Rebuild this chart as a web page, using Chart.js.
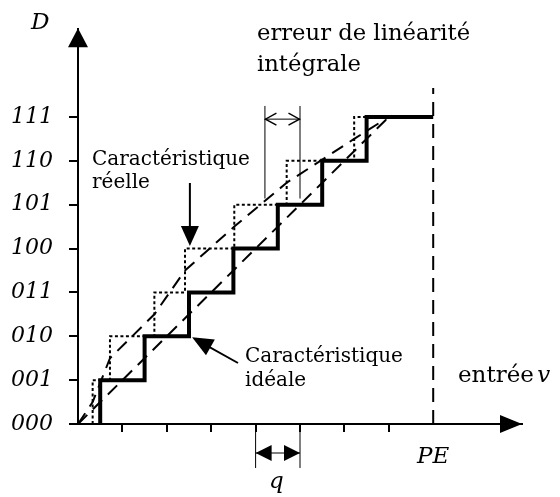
<!DOCTYPE html>
<html>
<head>
<meta charset="utf-8">
<script src="https://cdn.jsdelivr.net/npm/chart.js@4"></script>
<style>
  html, body { margin: 0; padding: 0; background: #fff; }
  #wrap { width: 560px; height: 497px; }
</style>
</head>
<body>
<div id="wrap"><canvas id="chart" width="560" height="497"></canvas></div>
<script>
// output codes D, one per quantisation level
const codes = ['000', '001', '010', '011', '100', '101', '110', '111'];
// input values (in q) where the code switches up
const idealEdges = [0.5, 1.5, 2.5, 3.5, 4.5, 5.5, 6.5];
const realEdges = [0.33, 0.72, 1.72, 2.41, 3.52, 4.70, 6.22];
const fullScale = 8;      // PE
const lineEnd = 7;        // where the two transfer lines stop
const xTicks = [1, 2, 3, 4, 5, 6, 7, 8];
const peTop = 7.66;

function staircase(edges) {
  const pts = [];
  edges.forEach((e, k) => {
    pts.push({ x: e, y: k }, { x: e, y: k + 1 });
  });
  pts.push({ x: fullScale, y: edges.length });
  return pts;
}

// line through the middle of every riser
function midline(edges) {
  const pts = [{ x: 0, y: 0 }];
  edges.forEach((e, k) => pts.push({ x: e, y: k + 0.5 }));
  pts.push({ x: lineEnd, y: lineEnd });
  return pts;
}

const serif = '"DejaVu Serif", serif';

function head(ctx, x1, y1, x2, y2, len, half, filled) {
  const a = Math.atan2(y2 - y1, x2 - x1);
  const bx = x2 - len * Math.cos(a), by = y2 - len * Math.sin(a);
  const px = -Math.sin(a) * half, py = Math.cos(a) * half;
  ctx.beginPath();
  ctx.moveTo(bx + px, by + py);
  ctx.lineTo(x2, y2);
  ctx.lineTo(bx - px, by - py);
  if (filled) { ctx.closePath(); ctx.fill(); } else ctx.stroke();
}

const extras = {
  id: 'extras',
  afterDraw(chart) {
    const ctx = chart.ctx;
    const xs = chart.scales.x, ys = chart.scales.y;
    const X = v => xs.getPixelForValue(v), Y = v => ys.getPixelForValue(v);
    const a = chart.chartArea;
    ctx.save();
    ctx.fillStyle = '#000';
    ctx.strokeStyle = '#000';

    // axis arrows
    head(ctx, a.left, a.top + 30, a.left, a.top - 1, 19, 10, true);
    head(ctx, a.right - 30, a.bottom, a.right, a.bottom, 22, 9, true);

    // integral linearity error marker
    ctx.lineWidth = 1;
    const eL = X(4.21), eR = X(5.0);
    ctx.beginPath();
    ctx.moveTo(eL, Y(5.14)); ctx.lineTo(eL, Y(7.25));
    ctx.moveTo(eR, Y(5.14)); ctx.lineTo(eR, Y(7.25));
    ctx.moveTo(eL, Y(6.95)); ctx.lineTo(eR, Y(6.95));
    ctx.stroke();
    ctx.lineWidth = 1.4;
    head(ctx, eR, Y(6.95), eL + 0.5, Y(6.95), 11, 6, false);
    head(ctx, eL, Y(6.95), eR - 0.5, Y(6.95), 11, 6, false);

    // q marker
    ctx.lineWidth = 1;
    const qL = X(4), qR = X(5), qy = a.bottom + 29;
    ctx.beginPath();
    ctx.moveTo(qL, a.bottom + 1); ctx.lineTo(qL, a.bottom + 44);
    ctx.moveTo(qR, a.bottom + 1); ctx.lineTo(qR, a.bottom + 44);
    ctx.moveTo(qL, qy); ctx.lineTo(qR, qy);
    ctx.stroke();
    head(ctx, qR, qy, qL, qy, 16, 8, true);
    head(ctx, qL, qy, qR, qy, 16, 8, true);

    // pointer arrows
    ctx.lineWidth = 2;
    ctx.beginPath();
    ctx.moveTo(X(2.52), 183); ctx.lineTo(X(2.52), Y(4.2));
    ctx.moveTo(238, 363); ctx.lineTo(X(2.7), Y(1.9));
    ctx.stroke();
    head(ctx, X(2.52), 200, X(2.52), Y(4.06), 20, 9, true);
    head(ctx, 238, 363, X(2.57), Y(1.98), 21, 9, true);

    // texts
    ctx.textAlign = 'left';
    ctx.textBaseline = 'alphabetic';
    ctx.font = '22.7px ' + serif;
    ctx.fillText('erreur de linéarité', 257, 40);
    ctx.fillText('intégrale', 257, 71);
    ctx.font = '20px ' + serif;
    ctx.fillText('Caractéristique', 92, 165);
    ctx.fillText('réelle', 92, 188);
    ctx.fillText('Caractéristique', 245, 362);
    ctx.fillText('idéale', 245, 386);
    ctx.font = '23px ' + serif;
    ctx.fillText('entrée', 458, 382);
    const w = ctx.measureText('entrée ').width;
    ctx.font = 'italic 23px ' + serif;
    ctx.fillText('v', 458 + w - 4, 382);
    ctx.font = 'italic 23px ' + serif;
    ctx.fillText('D', 31, 29);
    ctx.fillText('q', 269, 488);
    ctx.restore();
  }
};

new Chart(document.getElementById('chart'), {
  type: 'scatter',
  data: {
    datasets: [
      {
        label: 'Caractéristique idéale',
        data: staircase(idealEdges),
        showLine: true, borderColor: '#000', borderWidth: 4,
        pointRadius: 0, clip: false, borderJoinStyle: 'miter'
      },
      {
        label: 'Caractéristique réelle',
        data: staircase(realEdges),
        showLine: true, borderColor: '#000', borderWidth: 2,
        borderDash: [3, 2.5], pointRadius: 0, clip: false
      },
      {
        label: 'droite idéale',
        data: midline(idealEdges),
        showLine: true, borderColor: '#000', borderWidth: 2,
        borderDash: [13, 8], pointRadius: 0, clip: false
      },
      {
        label: 'courbe réelle',
        data: midline(realEdges),
        showLine: true, borderColor: '#000', borderWidth: 2,
        borderDash: [13, 8], pointRadius: 0, clip: false
      },
      {
        label: 'PE',
        data: [{ x: fullScale, y: 0 }, { x: fullScale, y: peTop }],
        showLine: true, borderColor: '#000', borderWidth: 2,
        borderDash: [14, 8], pointRadius: 0, clip: false
      }
    ]
  },
  options: {
    responsive: false,
    animation: false,
    devicePixelRatio: 1,
    layout: { padding: { top: 28, right: 38, left: 0, bottom: 0 } },
    plugins: { legend: { display: false }, tooltip: { enabled: false } },
    scales: {
      x: {
        type: 'linear', min: 0, max: 10,
        afterFit(s) { s.height = 73; },
        afterBuildTicks(s) { s.ticks = xTicks.map(v => ({ value: v })); },
        border: { display: true, color: '#000', width: 2 },
        grid: {
          drawOnChartArea: false, drawTicks: true, tickLength: 8, lineWidth: 2,
          color: c => (c.tick && c.tick.value === fullScale) ? 'rgba(0,0,0,0)' : '#000'
        },
        ticks: {
          color: '#000', padding: 11, maxRotation: 0, autoSkip: false,
          font: { family: 'DejaVu Serif', style: 'italic', size: 23 },
          callback: v => v === fullScale ? 'PE' : ''
        }
      },
      y: {
        type: 'linear', min: 0, max: 9,
        afterFit(s) { s.width = 78; },
        afterBuildTicks(s) { s.ticks = codes.map((c, i) => ({ value: i })); },
        border: { display: true, color: '#000', width: 2 },
        grid: { drawOnChartArea: false, drawTicks: true, tickLength: 9, lineWidth: 2, color: '#000' },
        ticks: {
          color: '#000', padding: 16, autoSkip: false,
          font: { family: 'DejaVu Serif', style: 'italic', size: 22 },
          callback: v => codes[v]
        }
      }
    }
  },
  plugins: [extras]
});
</script>
</body>
</html>
